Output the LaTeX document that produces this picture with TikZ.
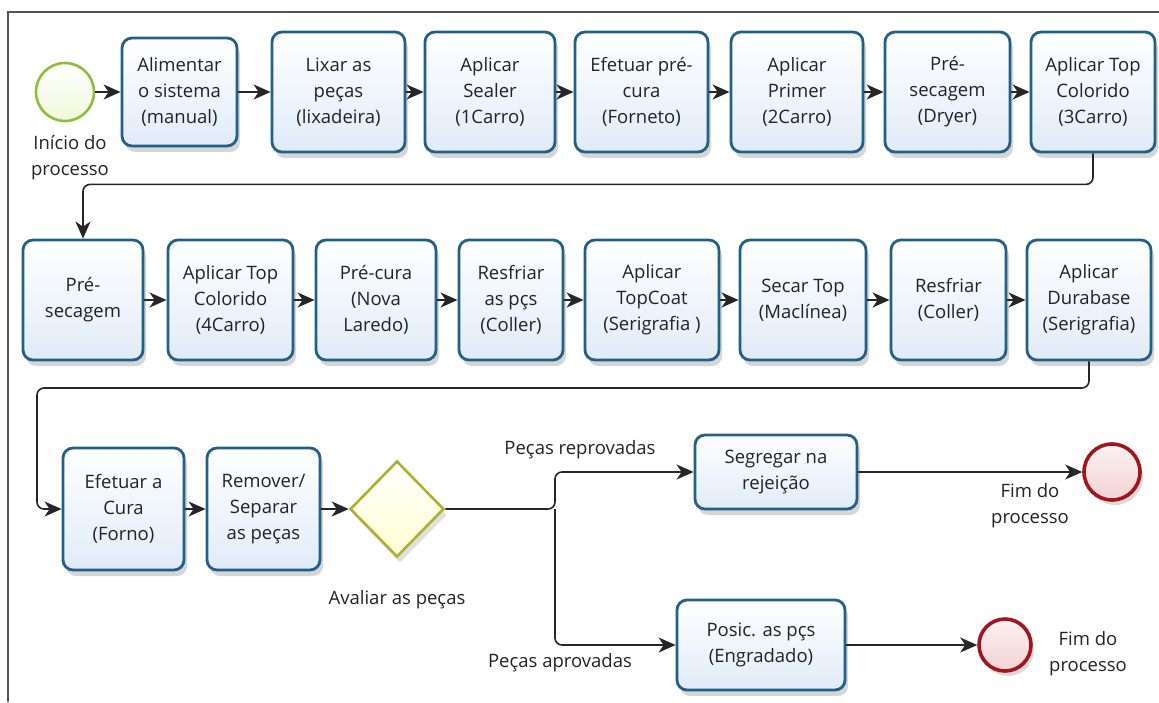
\documentclass[tikz,border=0pt]{standalone}
\usepackage{fontspec}
\setmainfont{Open Sans}
\usetikzlibrary{arrows.meta,shapes.geometric,shadows}

\definecolor{taskline}{RGB}{34,96,136}
\definecolor{taskfill}{RGB}{224,235,248}
\definecolor{startline}{RGB}{140,190,60}
\definecolor{startfill}{RGB}{240,248,218}
\definecolor{endline}{RGB}{160,22,32}
\definecolor{endfill}{RGB}{244,210,210}
\definecolor{gateline}{RGB}{176,176,48}
\definecolor{gatefill}{RGB}{255,255,210}
\definecolor{txt}{RGB}{35,35,35}
\definecolor{framegray}{RGB}{85,85,85}

\tikzset{
  basefont/.style={font=\fontsize{18.5}{26}\selectfont, text=txt},
  task/.style={basefont, draw=taskline, line width=2.8pt, rounded corners=10pt,
    top color=white, bottom color=taskfill, align=center, inner sep=2pt,
    drop shadow={shadow xshift=3pt, shadow yshift=-6pt, opacity=0.16, fill=black}},
  startev/.style={circle, draw=startline, line width=2.6pt, inner sep=0pt,
    top color=white, bottom color=startfill, minimum size=58pt},
  endev/.style={circle, draw=endline, line width=3.6pt, inner sep=0pt,
    top color=white!70!endfill, bottom color=endfill,
    drop shadow={shadow xshift=3pt, shadow yshift=-5pt, opacity=0.14, fill=black}},
  gateway/.style={diamond, draw=gateline, line width=2.6pt, inner sep=0pt,
    top color=white, bottom color=gatefill, minimum width=94pt, minimum height=96pt,
    drop shadow={shadow xshift=3pt, shadow yshift=-6pt, opacity=0.12, fill=black}},
  lbl/.style={basefont, align=center, inner sep=0pt},
  flow/.style={draw=black!85, line width=1.6pt,
    -{Stealth[length=17pt,width=15pt,inset=5pt]}},
  frameline/.style={draw=framegray, line width=2pt}
}

\begin{document}
\begin{tikzpicture}[x=1pt,y=-1pt]
\useasboundingbox (0,0) rectangle (1159,702);

% outer frame
\draw[frameline] (8,702) -- (8,12) -- (1159,12);

% first row
\node[startev] (start) at (65,92) {};
\node[lbl] (lstart) at (70,158) {Início do\\processo};
\node[task, minimum width=115pt, minimum height=108pt] (a1) at (179.5,92) {Alimentar\\o sistema\\(manual)};
\node[task, minimum width=133pt, minimum height=120pt] (a2) at (338.5,92) {Lixar as\\peças\\(lixadeira)};
\node[task, minimum width=130pt, minimum height=120pt] (a3) at (490,92) {Aplicar\\Sealer\\(1Carro)};
\node[task, minimum width=133pt, minimum height=120pt] (a4) at (641.5,92) {Efetuar pré-\\cura\\(Forneto)};
\node[task, minimum width=132pt, minimum height=120pt] (a5) at (797,92) {Aplicar\\Primer\\(2Carro)};
\node[task, minimum width=125pt, minimum height=120pt] (a6) at (947.5,92) {Pré-\\secagem\\(Dryer)};
\node[task, minimum width=124pt, minimum height=120pt] (a7) at (1093,92) {Aplicar Top\\Colorido\\(3Carro)};

% second row
\node[task, minimum width=120pt, minimum height=120pt] (b1) at (83,300) {Pré-\\secagem};
\node[task, minimum width=125pt, minimum height=120pt] (b2) at (230.5,300) {Aplicar Top\\Colorido\\(4Carro)};
\node[task, minimum width=120pt, minimum height=120pt] (b3) at (376,300) {Pré-cura\\(Nova\\Laredo)};
\node[task, minimum width=104pt, minimum height=120pt] (b4) at (511,300) {Resfriar\\as pçs\\(Coller)};
\node[task, minimum width=134pt, minimum height=120pt] (b5) at (652,300) {Aplicar\\TopCoat\\(Serigrafia )};
\node[task, minimum width=126pt, minimum height=120pt] (b6) at (803,300) {Secar Top\\(Maclínea)};
\node[task, minimum width=115pt, minimum height=120pt] (b7) at (948.5,300) {Resfriar\\(Coller)};
\node[task, minimum width=124pt, minimum height=120pt] (b8) at (1089,300) {Aplicar\\Durabase\\(Serigrafia)};

% third row
\node[task, minimum width=121pt, minimum height=122pt] (c1) at (123.5,509) {Efetuar a\\Cura\\(Forno)};
\node[task, minimum width=113pt, minimum height=122pt] (c2) at (263.5,509) {Remover/\\Separar\\as peças};
\node[gateway] (gw) at (397,509) {};
\node[lbl] (lgw) at (397,600) {Avaliar as peças};
\node[task, minimum width=162pt, minimum height=74pt] (seg) at (776,472) {Segregar na\\rejeição};
\node[task, minimum width=168pt, minimum height=90pt] (pos) at (761,645) {Posic. as pçs\\(Engradado)};
\node[endev, minimum size=56pt] (end1) at (1112,472) {};
\node[endev, minimum size=52pt] (end2) at (1005,645) {};
\node[lbl] (lrep) at (580,450) {Peças reprovadas};
\node[lbl] (lapr) at (560,663) {Peças aprovadas};
\node[lbl] (lend1) at (1030,506) {Fim do\\processo};
\node[lbl] (lend2) at (1088,654) {Fim do\\processo};

% sequence flows, first row
\draw[flow] (start) -- (a1);
\draw[flow] (a1) -- (a2);
\draw[flow] (a2) -- (a3);
\draw[flow] (a3) -- (a4);
\draw[flow] (a4) -- (a5);
\draw[flow] (a5) -- (a6);
\draw[flow] (a6) -- (a7);
\draw[flow, rounded corners=7pt] (a7.south) -- ++(0,31) -| (b1.north);

% second row
\draw[flow] (b1) -- (b2);
\draw[flow] (b2) -- (b3);
\draw[flow] (b3) -- (b4);
\draw[flow] (b4) -- (b5);
\draw[flow] (b5) -- (b6);
\draw[flow] (b6) -- (b7);
\draw[flow] (b7) -- (b8);
\draw[flow, rounded corners=7pt] (b8.south) |- (37,388) |- (c1.west);

% third row and the decision
\draw[flow] (c1) -- (c2);
\draw[flow] (c2) -- (gw);
\coordinate (split) at (555,509);
\draw[flow, rounded corners=7pt] (gw.east) -- (split) |- (seg.west);
\draw[flow, rounded corners=7pt] (split) |- (pos.west);
\draw[flow] (seg) -- (end1);
\draw[flow] (pos) -- (end2);
\end{tikzpicture}
\end{document}
